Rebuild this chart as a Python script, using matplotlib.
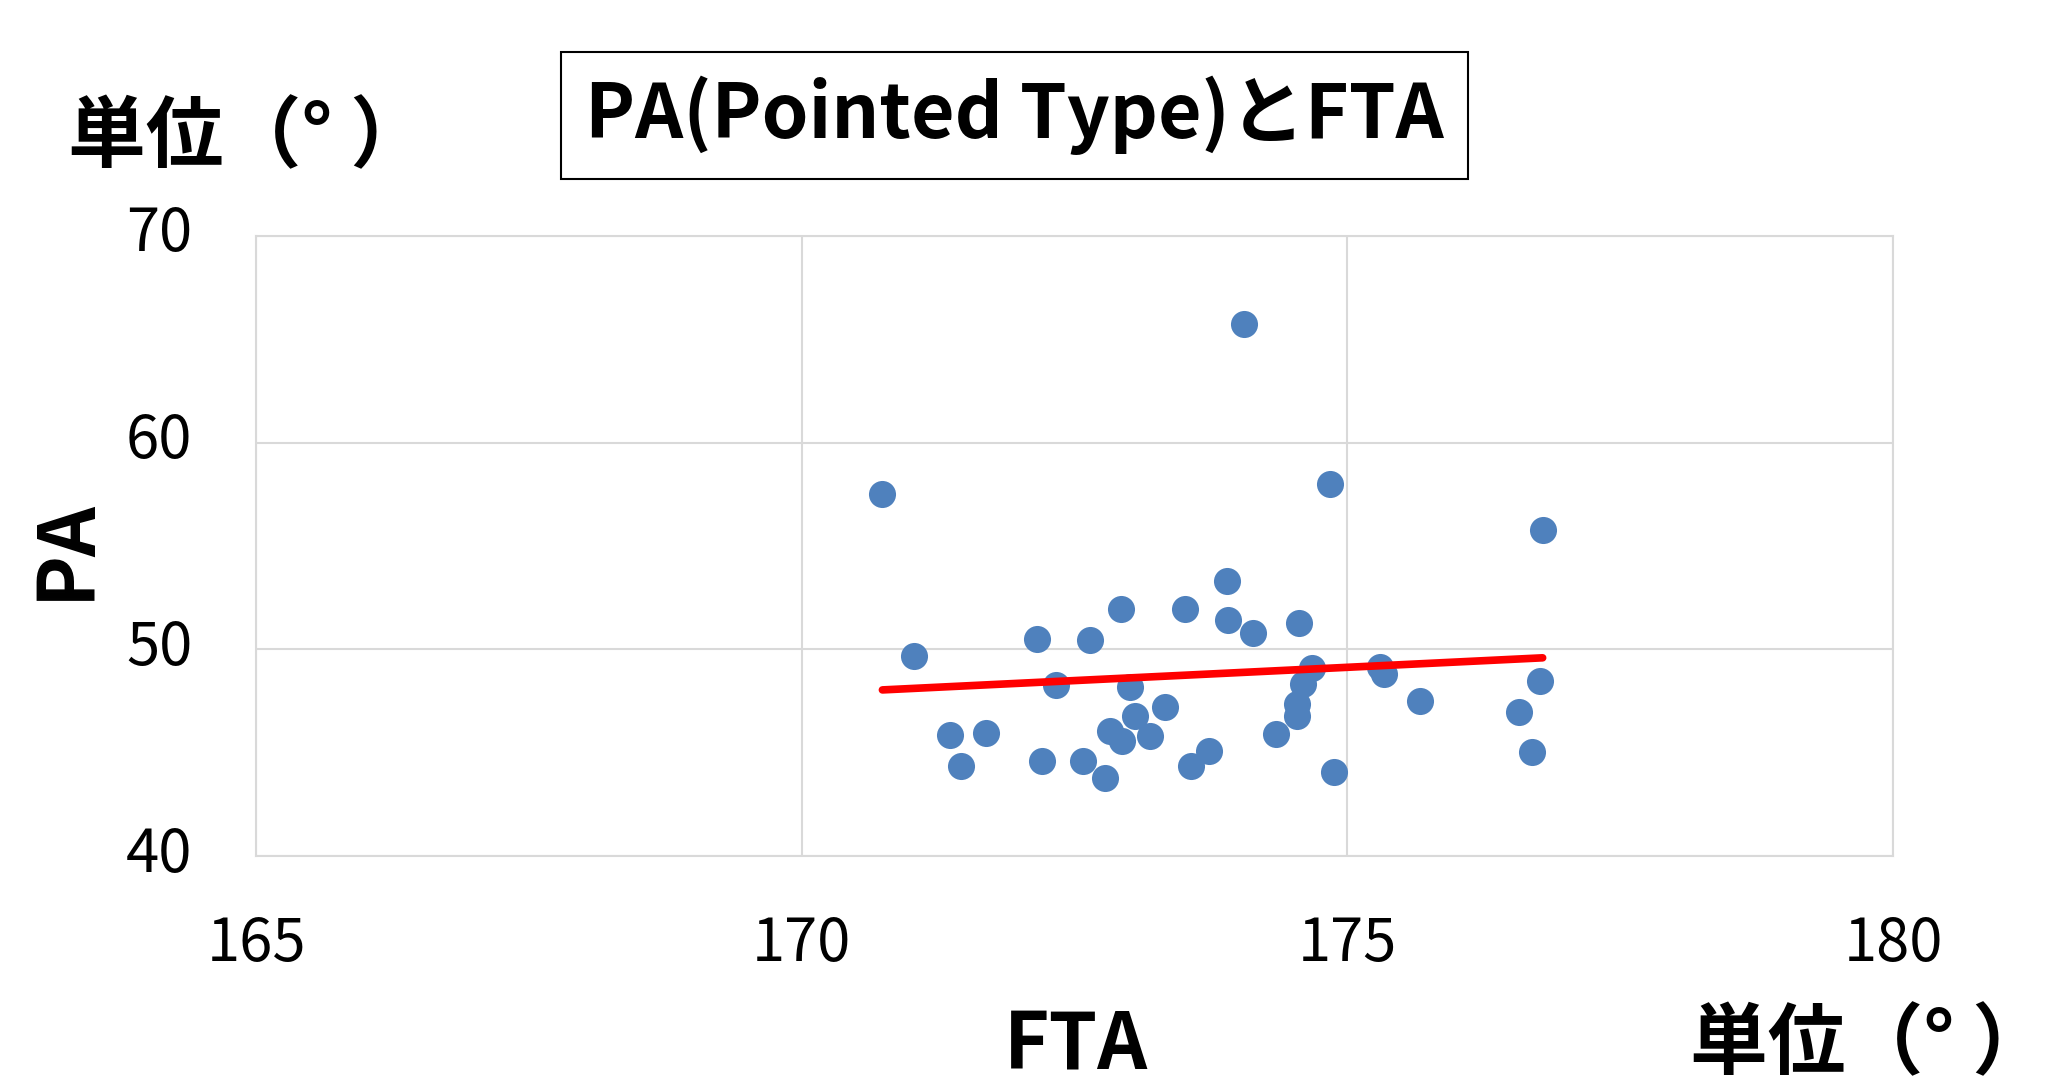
import numpy as np
import matplotlib
matplotlib.use("Agg")
import matplotlib.pyplot as plt
import matplotlib.transforms as mtransforms

plt.rcParams["font.family"] = ["Noto Sans CJK JP", "DejaVu Sans"]

# FTA (deg) and PA (deg)
fta = [174.05, 170.74, 174.84, 176.79, 173.90, 172.93, 173.51, 173.91, 174.56, 174.14,
       172.16, 172.64, 171.03, 174.68, 175.30, 175.34, 176.77, 172.33, 173.01, 174.59,
       175.67, 173.33, 174.54, 174.54, 173.05, 176.57, 172.83, 172.94, 173.19, 171.36,
       171.69, 174.35, 176.69, 173.73, 171.46, 172.20, 172.58, 173.57, 174.88, 172.78]
pa = [65.72, 57.51, 57.99, 55.76, 53.29, 51.95, 51.94, 51.42, 51.29, 50.78,
      50.52, 50.47, 49.66, 49.11, 49.14, 48.82, 48.45, 48.26, 48.17, 48.34,
      47.50, 47.21, 47.34, 46.76, 46.76, 46.96, 46.04, 45.59, 45.80, 45.88,
      45.93, 45.92, 45.01, 45.08, 44.38, 44.62, 44.62, 44.38, 44.06, 43.77]

x_ticks = [165, 170, 175, 180]
y_ticks = [40, 50, 60, 70]

title = "PA(Pointed Type)とFTA"
unit = "単位（° ）"

fig = plt.figure(figsize=(20.58, 10.81), dpi=100)
ax = fig.add_axes([0.1244, 0.2081, 0.7954, 0.5736])

ax.scatter(fta, pa, s=380, color="#4F81BD", zorder=3, linewidths=0)

# linear trend line
coef = np.polyfit(fta, pa, 1)
xs = np.array([min(fta), max(fta)])
ax.plot(xs, np.polyval(coef, xs), color="red", lw=5.5, solid_capstyle="round", zorder=4)

ax.set_xlim(165, 180)
ax.set_ylim(40, 70)
ax.set_xticks(x_ticks)
ax.set_yticks(y_ticks)
ax.grid(True, color="#d9d9d9", lw=1.5)
ax.set_axisbelow(True)
for s in ax.spines.values():
    s.set_color("#d9d9d9")
    s.set_linewidth(1.5)
ax.tick_params(length=0, labelsize=43)
ax.tick_params(axis="y", pad=46)
ax.tick_params(axis="x", pad=42)

# Excel puts the value labels a little above the grid lines
shift = mtransforms.ScaledTranslation(0, 0.08, fig.dpi_scale_trans)
for lab in ax.get_yticklabels():
    lab.set_transform(lab.get_transform() + shift)

fig.text(0.493, 0.893, title, fontsize=54, fontweight="bold", ha="center", va="center",
         bbox=dict(boxstyle="square,pad=0.32", fc="white", ec="black", lw=1.5))
fig.text(0.1205, 0.872, unit, fontsize=56, fontweight="bold", ha="center", va="center")
fig.text(0.032, 0.492, "PA", fontsize=56, fontweight="bold", ha="center", va="center", rotation=90)
fig.text(0.523, 0.012, "FTA", fontsize=56, fontweight="bold", ha="center", va="baseline")
fig.text(0.9085, 0.012, unit, fontsize=56, fontweight="bold", ha="center", va="baseline")

fig.savefig("out.png", dpi=100)
